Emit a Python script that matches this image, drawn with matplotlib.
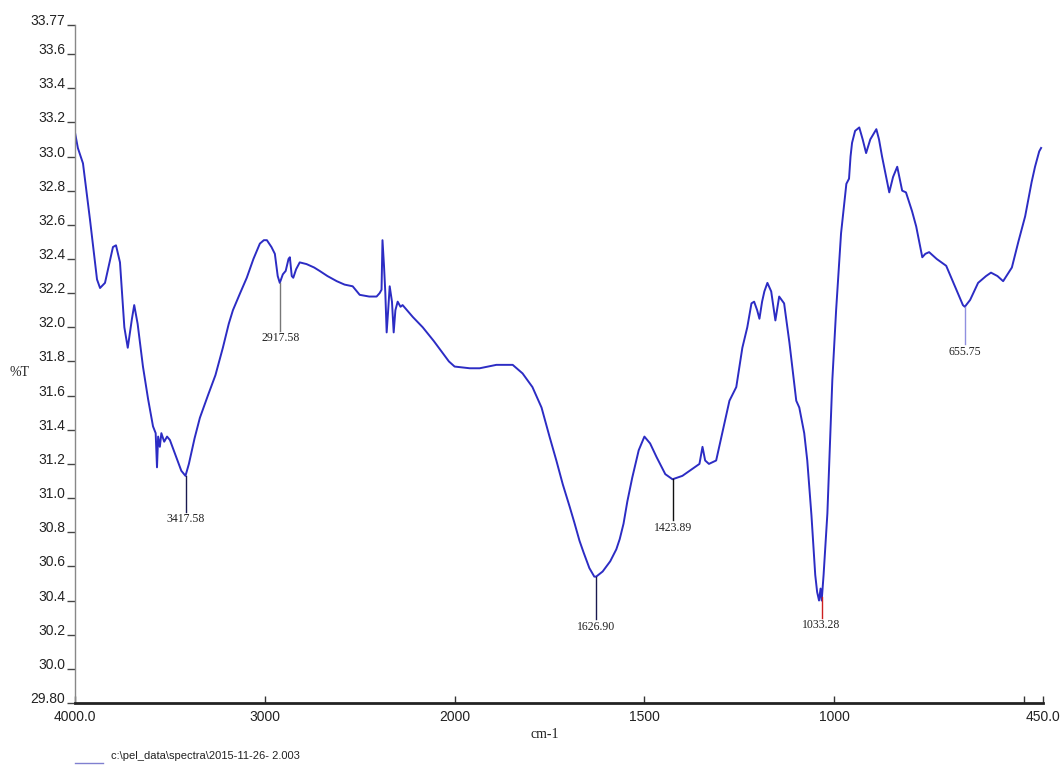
"""
FTIR spectrum (%T vs cm-1) with PerkinElmer-style split x scale.
"""

import numpy as np
import matplotlib
matplotlib.use("Agg")
import matplotlib.pyplot as plt

# --- Spectrum data ---
wavenumber = [
    4000, 3985, 3958, 3921, 3884, 3868, 3842, 3800, 3784, 3763, 3740, 3722,
    3700, 3688, 3670, 3642, 3615, 3589, 3575, 3568, 3562, 3553, 3545, 3530,
    3515, 3500, 3470, 3440, 3418, 3400, 3370, 3342, 3300, 3260, 3221, 3190,
    3168, 3130, 3095, 3060, 3026, 3005, 2989, 2965, 2947, 2932, 2921, 2905,
    2890, 2875, 2868, 2858, 2850, 2835, 2816, 2780, 2740, 2711, 2670, 2621,
    2580, 2537, 2500, 2450, 2411, 2395, 2385, 2380, 2372, 2365, 2358, 2350,
    2342, 2330, 2321, 2312, 2300, 2285, 2274, 2220, 2168, 2110, 2063, 2030,
    2000, 1960, 1934, 1890, 1847, 1821, 1795, 1771, 1750, 1732, 1715, 1697,
    1685, 1671, 1660, 1645, 1632, 1627, 1610, 1600, 1590, 1574, 1565, 1555,
    1545, 1532, 1515, 1500, 1485, 1468,
    1445, 1426, 1400, 1374, 1355, 1347, 1340, 1330, 1311, 1297, 1276, 1258,
    1242, 1229, 1218, 1211, 1203, 1197, 1190, 1184, 1176, 1166, 1155, 1145,
    1132, 1118, 1100, 1092, 1085, 1079, 1071, 1060, 1050, 1045, 1040, 1036,
    1033, 1028, 1018, 1005, 995, 982, 968, 961, 957, 953, 945, 934,
    925, 916, 905, 889, 882, 874, 865, 855, 845, 834, 821, 811,
    795, 784, 768, 760, 750, 730, 705, 682, 661, 656, 642, 621,
    600, 587, 570, 555, 532, 515, 497, 480, 471, 460, 455,
]
transmittance = [
    33.14, 33.05, 32.96, 32.63, 32.28, 32.23, 32.26, 32.47, 32.48, 32.38, 32.00, 31.88,
    32.05, 32.13, 32.02, 31.77, 31.58, 31.42, 31.38, 31.18, 31.36, 31.30, 31.38, 31.33,
    31.36, 31.34, 31.25, 31.16, 31.13, 31.20, 31.35, 31.47, 31.60, 31.72, 31.88, 32.02,
    32.10, 32.20, 32.29, 32.40, 32.49, 32.51, 32.51, 32.47, 32.43, 32.30, 32.26, 32.31,
    32.33, 32.40, 32.41, 32.30, 32.29, 32.34, 32.38, 32.37, 32.35, 32.33, 32.30, 32.27,
    32.25, 32.24, 32.19, 32.18, 32.18, 32.20, 32.22, 32.51, 32.36, 32.20, 31.97, 32.10,
    32.24, 32.15, 31.97, 32.10, 32.15, 32.12, 32.13, 32.06, 32.00, 31.92, 31.85, 31.80,
    31.77, 31.76, 31.76, 31.78, 31.78, 31.73, 31.65, 31.53, 31.36, 31.22, 31.08, 30.95,
    30.86, 30.75, 30.68, 30.59, 30.54, 30.54, 30.57, 30.60, 30.63, 30.70, 30.76, 30.85,
    30.98, 31.12, 31.28, 31.36, 31.32, 31.24,
    31.14, 31.11, 31.13, 31.17, 31.20, 31.30, 31.22, 31.20, 31.22, 31.36, 31.57, 31.65,
    31.88, 32.00, 32.14, 32.15, 32.10, 32.05, 32.15, 32.21, 32.26, 32.21, 32.04, 32.18,
    32.14, 31.91, 31.57, 31.53, 31.45, 31.38, 31.22, 30.90, 30.55, 30.45, 30.40, 30.47,
    30.40, 30.55, 30.91, 31.69, 32.10, 32.55, 32.84, 32.87, 33.00, 33.08, 33.15, 33.17,
    33.10, 33.02, 33.10, 33.16, 33.10, 33.00, 32.90, 32.79, 32.88, 32.94, 32.80, 32.79,
    32.68, 32.59, 32.41, 32.43, 32.44, 32.40, 32.36, 32.24, 32.13, 32.12, 32.16, 32.26,
    32.30, 32.32, 32.30, 32.27, 32.35, 32.50, 32.65, 32.85, 32.94, 33.03, 33.05,
]

# --- Peak labels ---
peak_wn = [3417.58, 2917.58, 1626.90, 1423.89, 1033.28, 655.75]
peak_t = [31.13, 32.26, 30.54, 31.11, 30.42, 32.12]
peak_label_t = [30.92, 31.98, 30.29, 30.87, 30.30, 31.90]
peak_colors = ["#1a1a50", "#777777", "#1a1a50", "#111111", "#cc2020", "#9090e0"]

x_ticks = [4000, 3000, 2000, 1500, 1000, 500, 450]
x_tick_labels = ["4000.0", "3000", "2000", "1500", "1000", "", "450.0"]
y_ticks = [33.77, 33.6, 33.4, 33.2, 33.0, 32.8, 32.6, 32.4, 32.2, 32.0, 31.8,
           31.6, 31.4, 31.2, 31.0, 30.8, 30.6, 30.4, 30.2, 30.0, 29.80]
y_tick_labels = ["33.77"] + [f"{v:.1f}" for v in y_ticks[1:-1]] + ["29.80"]


# --- Split scale: half compression above 2000 cm-1 ---
def forward(x):
    x = np.asarray(x, dtype=float)
    return np.where(x >= 2000, 2000 + (x - 2000) / 2.0, x)


def inverse(u):
    u = np.asarray(u, dtype=float)
    return np.where(u >= 2000, 2000 + (u - 2000) * 2.0, u)


tick_font = ["Liberation Sans Narrow", "Liberation Sans", "DejaVu Sans"]
serif_font = ["Liberation Serif", "DejaVu Serif"]

fig = plt.figure(figsize=(10.62, 7.67), dpi=100)
ax = fig.add_axes([75 / 1062, 1 - 703 / 767, 968 / 1062, 678 / 767])

ax.set_xscale("function", functions=(forward, inverse))
ax.plot(wavenumber, transmittance, color="#2c2cc4", lw=1.4)

for wn, t0, t1, c in zip(peak_wn, peak_t, peak_label_t, peak_colors):
    ax.plot([wn, wn], [t0, t1], color=c, lw=1.0)
    ax.text(wn, t1 - 0.01, f"{wn:.2f}", ha="center", va="top",
            fontsize=8.5, family=serif_font, color="#222222")

ax.set_xlim(4000, 450)
ax.set_ylim(29.80, 33.77)

ax.set_xticks(x_ticks)
ax.set_xticklabels(x_tick_labels, family=tick_font, fontsize=10, color="#222222")
ax.set_yticks(y_ticks)
ax.set_yticklabels(y_tick_labels, family=tick_font, fontsize=10, color="#222222")
for lab in ax.get_yticklabels():
    lab.set_va("baseline")
ax.minorticks_off()

ax.tick_params(axis="x", direction="in", length=5, width=1, pad=5, color="#333333")
ax.tick_params(axis="y", direction="out", length=6, width=1, pad=1, color="#444444")

ax.spines["top"].set_visible(False)
ax.spines["right"].set_visible(False)
ax.spines["left"].set_color("#888888")
ax.spines["left"].set_linewidth(1.0)
ax.spines["bottom"].set_color("#222222")
ax.spines["bottom"].set_linewidth(2.0)

fig.text(545 / 1062, 1 - 735 / 767, "cm-1", ha="center", va="center",
         fontsize=10, family=serif_font, color="#222222")
fig.text(20 / 1062, 1 - 372 / 767, "%T", ha="center", va="center",
         fontsize=10, family=serif_font, color="#222222")

# legend line + file path
fig.add_artist(plt.Line2D([75 / 1062, 103 / 1062], [1 - 763 / 767, 1 - 763 / 767],
                          color="#8080d0", lw=1.0))
fig.text(111 / 1062, 1 - 756 / 767, r"c:\pel_data\spectra\2015-11-26- 2.003",
         ha="left", va="center", fontsize=8, family=tick_font, color="#222222")

fig.savefig("out.png", dpi=100)
